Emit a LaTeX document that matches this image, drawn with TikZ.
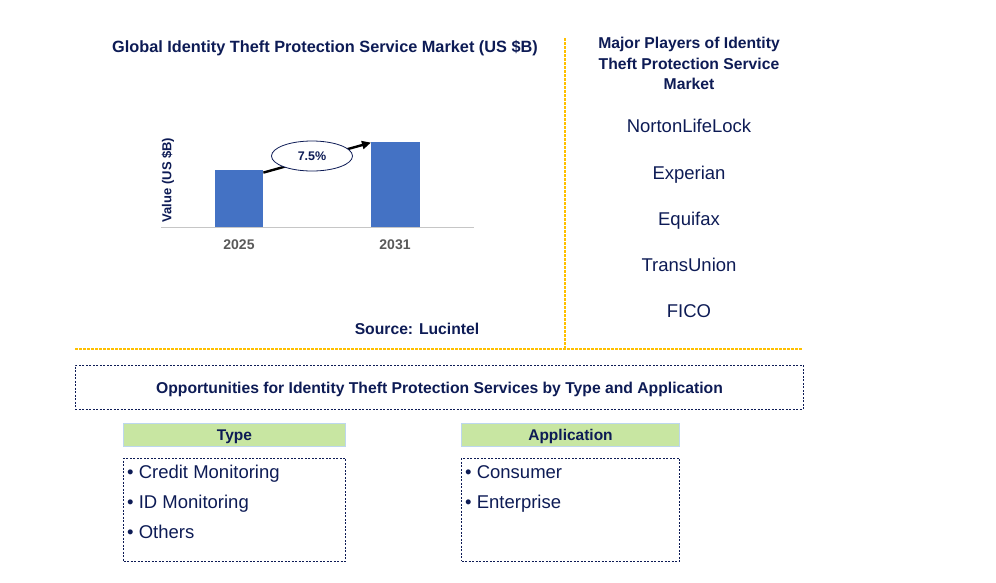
\documentclass[tikz,border=0pt]{standalone}
\usepackage{fontspec}
\setmainfont{Liberation Sans}
\usetikzlibrary{shapes.geometric,arrows.meta}
\definecolor{navy}{HTML}{0D1B55}
\definecolor{barblue}{HTML}{4472C4}
\definecolor{sepgold}{RGB}{255,192,0}
\definecolor{lgreen}{HTML}{C8E6A2}
\definecolor{lblue}{HTML}{BDD7EE}
\definecolor{axgray}{HTML}{595959}
\tikzset{
  bar/.style={fill=barblue, draw=none, inner sep=0pt, anchor=south west},
  sepline/.style={color=sepgold, line width=1.2pt, dash pattern=on 3pt off 1pt},
  dotbox/.style={draw=navy, line width=0.8pt, dash pattern=on 2pt off 1.5pt, inner sep=0pt},
  hdr/.style={fill=lgreen, draw=lblue, line width=0.8pt, minimum width=222pt, minimum height=23pt, inner sep=0pt},
  hdrtxt/.style={text=navy, font=\bfseries\fontsize{15.5}{18}\selectfont, anchor=base, inner sep=0pt},
  company/.style={text=navy, font=\fontsize{18.5}{22}\selectfont, anchor=base, inner sep=0pt},
  item/.style={text=navy, font=\fontsize{18.5}{22}\selectfont, anchor=base west, inner sep=0pt},
  btitle/.style={text=navy, font=\bfseries\fontsize{15.7}{20.5}\selectfont, anchor=base, inner sep=0pt},
  yearlbl/.style={text=axgray, font=\bfseries\fontsize{14}{16}\selectfont, anchor=base, inner sep=0pt}
}
\begin{document}
\begin{tikzpicture}[x=1pt,y=-1pt]
\useasboundingbox (0,0) rectangle (996,582);
% chart title
\node[btitle, font=\bfseries\fontsize{16.3}{19}\selectfont] (title) at (325,52.5) {Global Identity Theft Protection Service Market (US \$B)};
% axis
\coordinate (ax1) at (161,227);
\coordinate (ax2) at (474,227);
\draw[draw=gray!45, line width=1pt] (ax1) -- (ax2);
% bars
\node[bar, minimum width=48pt, minimum height=57pt] (b1) at (215,227) {};
\node[bar, minimum width=49pt, minimum height=85pt] (b2) at (371,227) {};
% y label
\node[text=navy, font=\bfseries\fontsize{13}{15}\selectfont, rotate=90] (ylab) at (168,180) {Value (US \$B)};
% year labels
\node[yearlbl] (y1) at (239,249) {2025};
\node[yearlbl] (y2) at (395,249) {2031};
% growth arrow
\draw[line width=2.4pt, -{Triangle[length=9pt,width=8pt]}] ([yshift=-3pt]b1.north east) -- ([yshift=-1pt]b2.north west);
\node[ellipse, draw=navy, line width=0.8pt, fill=white, minimum width=81pt, minimum height=30pt, inner sep=0pt, text=navy, font=\bfseries\fontsize{12.5}{14}\selectfont] (cagr) at (312,156) {7.5\%};
% source
\node[btitle] (src) at (417,334) {Source: Lucintel};
% separators
\coordinate (v1) at (565,38);
\coordinate (v2) at (565,348);
\draw[sepline] (v1) -- (v2);
\coordinate (h1) at (75,349);
\coordinate (h2) at (802,349);
\draw[sepline] (h1) -- (h2);
% major players
\node[btitle] (mp1) at (689,48.5) {Major Players of Identity};
\node[btitle] (mp2) at (689,69) {Theft Protection Service};
\node[btitle] (mp3) at (689,89.3) {Market};
\node[company] (c1) at (689,132.3) {NortonLifeLock};
\node[company] (c2) at (689,179.3) {Experian};
\node[company] (c3) at (689,225.7) {Equifax};
\node[company] (c4) at (689,271.3) {TransUnion};
\node[company] (c5) at (689,317.7) {FICO};
% opportunities
\node[dotbox, minimum width=728pt, minimum height=44pt] (opp) at (439,387) {};
\node[btitle] (opptxt) at (439.5,393.3) {Opportunities for Identity Theft Protection Services by Type and Application};
\node[hdr] (th) at (234.5,435) {};
\node[hdr, minimum width=218pt] (ah) at (570.5,435) {};
\node[hdrtxt] (tht) at (234.5,440) {Type};
\node[hdrtxt] (aht) at (570.5,440) {Application};
\node[dotbox, minimum width=222pt, minimum height=103pt] (tl) at (234.5,509.5) {};
\node[dotbox, minimum width=218pt, minimum height=103pt] (al) at (570.5,509.5) {};
\node[item] (t1) at (127,478.5) {• Credit Monitoring};
\node[item] (t2) at (127,508.5) {• ID Monitoring};
\node[item] (t3) at (127,538.5) {• Others};
\node[item] (a1) at (465,478.5) {• Consumer};
\node[item] (a2) at (465,508.5) {• Enterprise};
\end{tikzpicture}
\end{document}
